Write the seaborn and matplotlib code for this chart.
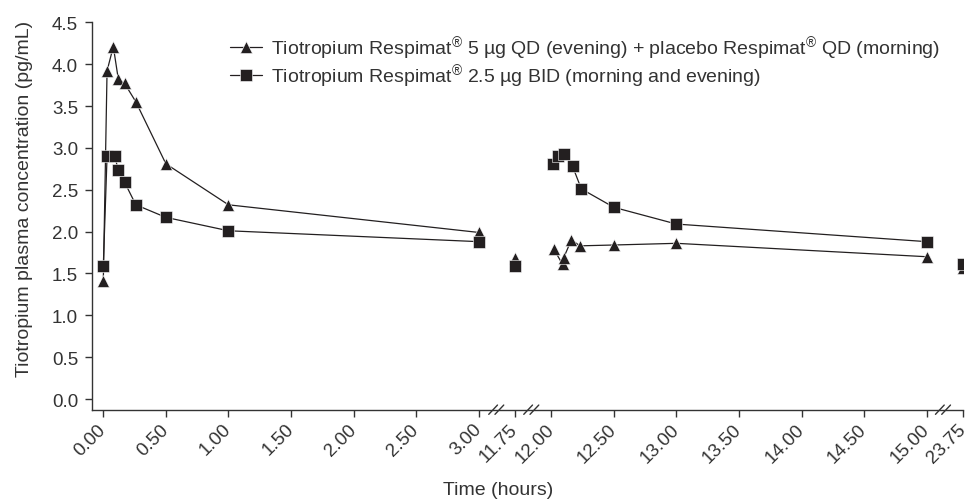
import numpy as np
import pandas as pd
import matplotlib
matplotlib.use("Agg")
import matplotlib.pyplot as plt
import matplotlib.transforms as mtransforms
from matplotlib.lines import Line2D
import seaborn as sns

# ========== data ==========
LABEL_QD = r"Tiotropium Respimat$^{\mathrm{®}}$ 5 µg QD (evening) + placebo Respimat$^{\mathrm{®}}$ QD (morning)"
LABEL_BID = r"Tiotropium Respimat$^{\mathrm{®}}$ 2.5 µg BID (morning and evening)"

time_qd = [0, 0.03, 0.08, 0.12, 0.17, 0.26, 0.5, 1, 3, 11.75,
           12.02, 12.09, 12.10, 12.16, 12.23, 12.5, 13, 15, 23.75]
conc_qd = [1.41, 3.92, 4.21, 3.82, 3.77, 3.55, 2.81, 2.32, 1.99, 1.69,
           1.79, 1.61, 1.69, 1.90, 1.83, 1.84, 1.86, 1.70, 1.56]

time_bid = [0, 0.03, 0.09, 0.12, 0.17, 0.26, 0.5, 1, 3, 11.75,
            12.01, 12.05, 12.10, 12.17, 12.24, 12.5, 13, 15, 23.75]
conc_bid = [1.59, 2.90, 2.90, 2.74, 2.59, 2.32, 2.17, 2.01, 1.88, 1.59,
            2.81, 2.90, 2.93, 2.78, 2.51, 2.29, 2.09, 1.88, 1.61]

tick_times = [0, 0.5, 1, 1.5, 2, 2.5, 3, 11.75, 12, 12.5, 13, 13.5, 14, 14.5, 15, 23.75]

# ========== broken time axis ==========
GAP = 0.29

def to_pos(t):
    if t <= 3:
        return t
    if t < 12:
        return 3 + GAP
    if t <= 15:
        return 3 + 2 * GAP + (t - 12)
    return 6 + 3 * GAP

def segment(t):
    if t <= 3:
        return "a"
    if t < 12:
        return "b"
    if t <= 15:
        return "c"
    return "d"

rows = []
for lab, ts, cs in [(LABEL_QD, time_qd, conc_qd), (LABEL_BID, time_bid, conc_bid)]:
    for t, c in zip(ts, cs):
        rows.append({"treatment": lab, "pos": to_pos(t), "conc": c,
                     "seg": lab + segment(t)})
df = pd.DataFrame(rows)

# ========== style ==========
sns.set_style("ticks")
plt.rcParams["font.family"] = ["Liberation Sans", "DejaVu Sans"]
plt.rcParams["mathtext.fontset"] = "custom"
plt.rcParams["mathtext.rm"] = "Liberation Sans"
plt.rcParams["mathtext.it"] = "Liberation Sans:italic"
TXT = "#333333"
INK = "#231f20"

fig = plt.figure(figsize=(9.74, 5.02), dpi=100)
ax = fig.add_axes([0.0945, 0.1819, 0.8942, 0.7717])

sns.lineplot(data=df, x="pos", y="conc", style="treatment", units="seg",
             estimator=None, markers={LABEL_QD: "^", LABEL_BID: "s"},
             dashes=False, color=INK, linewidth=0.9, markersize=9,
             markeredgecolor="white", markeredgewidth=0.4,
             legend=False, ax=ax)

ax.set_xlim(-0.09, 6 + 3 * GAP)
ax.set_ylim(-0.127, 4.5)
ax.set_yticks(np.arange(0, 4.51, 0.5))
ax.set_yticklabels([f"{v:.1f}" for v in np.arange(0, 4.51, 0.5)])
ax.set_xticks([to_pos(t) for t in tick_times])
ax.set_xticklabels([f"{t:.2f}" for t in tick_times], rotation=45,
                   ha="right", va="center", rotation_mode="anchor")
shift = mtransforms.ScaledTranslation(0.05, 0, fig.dpi_scale_trans)
for lab in ax.get_xticklabels():
    lab.set_transform(lab.get_transform() + shift)

for s in ["top", "right"]:
    ax.spines[s].set_visible(False)
for s in ["left", "bottom"]:
    ax.spines[s].set_color(TXT)
    ax.spines[s].set_linewidth(1.0)
ax.tick_params(axis="both", colors=TXT, labelcolor=TXT, labelsize=13.5,
               length=5, width=1.0, direction="out")
ax.tick_params(axis="y", pad=5)
ax.tick_params(axis="x", pad=7)

ax.set_ylabel("Tiotropium plasma concentration (pg/mL)", fontsize=14, color=TXT)
ax.set_xlabel("Time (hours)", fontsize=14, color=TXT)
ax.yaxis.set_label_coords(-0.068, 0.547)
ax.xaxis.set_label_coords(0.466, -0.185)

# break marks on the time axis
trans = mtransforms.blended_transform_factory(ax.transData, ax.transAxes)
for bx in [3.14, 3.42, 6.71]:
    for off in [-0.025, 0.025]:
        ax.plot([bx + off - 0.035, bx + off + 0.035], [-0.012, 0.012],
                transform=trans, color=TXT, lw=1.0, clip_on=False)

# legend
handles = [Line2D([], [], color=INK, lw=0.9, marker="^", markersize=9,
                  markeredgecolor="white", markeredgewidth=0.4),
           Line2D([], [], color=INK, lw=0.9, marker="s", markersize=9,
                  markeredgecolor="white", markeredgewidth=0.4)]
leg = ax.legend(handles, [LABEL_QD, LABEL_BID], loc="upper left",
                bbox_to_anchor=(0.158, 0.969), frameon=False, fontsize=14,
                handlelength=1.65, handletextpad=0.5, labelspacing=0.0,
                borderaxespad=0, borderpad=0)
for t in leg.get_texts():
    t.set_color(TXT)

fig.savefig("out.png", dpi=100)
